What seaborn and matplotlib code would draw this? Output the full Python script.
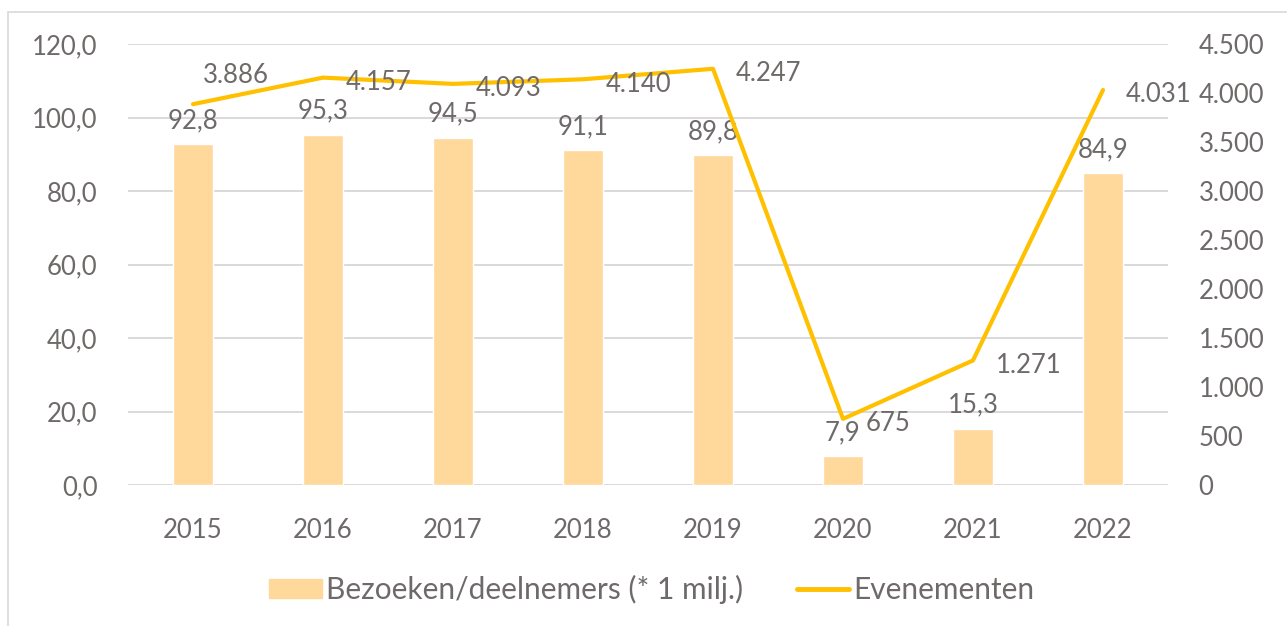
import matplotlib
matplotlib.use("Agg")
import matplotlib.pyplot as plt
from matplotlib.ticker import FuncFormatter, MultipleLocator
from matplotlib.patches import Rectangle
import pandas as pd
import seaborn as sns

# Data
jaren = ['2015', '2016', '2017', '2018', '2019', '2020', '2021', '2022']
bezoeken = [92.8, 95.3, 94.5, 91.1, 89.8, 7.9, 15.3, 84.9]
evenementen = [3886, 4157, 4093, 4140, 4247, 675, 1271, 4031]

BAR_KLEUR = '#FFD89B'
LIJN_KLEUR = '#FFC000'
TEKST_KLEUR = '#6f6a6a'
GRID_KLEUR = '#d9d9d9'

sns.set_style('white')
plt.rcParams['font.family'] = ['Lato', 'DejaVu Sans']
plt.rcParams['text.color'] = TEKST_KLEUR
FS = 18.5      # getallen
FS_LEG = 21.5  # legenda

df = pd.DataFrame({'jaar': jaren, 'bezoeken': bezoeken, 'evenementen': evenementen})

fig = plt.figure(figsize=(12.87, 6.26), dpi=100)
ax = fig.add_axes([128 / 1287, 141 / 626, 1040 / 1287, 441 / 626])

sns.barplot(data=df, x='jaar', y='bezoeken', color=BAR_KLEUR, width=0.31,
            saturation=1, ax=ax, zorder=2)
ax.set_ylim(0, 120)
ax.set_xlim(-0.5, len(jaren) - 0.5)
ax.yaxis.set_major_locator(MultipleLocator(20))
ax.yaxis.set_major_formatter(FuncFormatter(lambda v, p: f"{v:.1f}".replace('.', ',')))
ax.grid(axis='y', color=GRID_KLEUR, linewidth=1.4)
ax.set_axisbelow(True)
ax.set_xlabel('')
ax.set_ylabel('')
ax.tick_params(axis='both', length=0, colors=TEKST_KLEUR, labelsize=FS)
ax.tick_params(axis='y', pad=22)
ax.tick_params(axis='x', pad=24)
for s in ax.spines.values():
    s.set_visible(False)

ax.bar_label(ax.containers[0], labels=[f"{v:.1f}".replace('.', ',') for v in bezoeken],
             padding=8, fontsize=FS, color=TEKST_KLEUR)

ax2 = ax.twinx()
sns.lineplot(data=df, x='jaar', y='evenementen', color=LIJN_KLEUR, linewidth=3,
             ax=ax2, sort=False)
ax2.set_ylim(0, 4500)
ax2.yaxis.set_major_locator(MultipleLocator(500))
ax2.yaxis.set_major_formatter(FuncFormatter(lambda v, p: f"{int(v):,}".replace(',', '.')))
ax2.tick_params(axis='y', length=0, colors=TEKST_KLEUR, labelsize=FS, pad=22)
ax2.set_ylabel('')
ax2.grid(False)
for s in ax2.spines.values():
    s.set_visible(False)

# labels naast de lijnpunten (pixel-offsets -> points)
afwijkend = {0: (10, 29)}
for i, v in enumerate(evenementen):
    dx, dy = afwijkend.get(i, (23, -5))
    ax2.annotate(f"{v:,}".replace(',', '.'), xy=(i, v), xytext=(dx * 0.72, dy * 0.72),
                 textcoords='offset points', ha='left', va='center',
                 fontsize=FS, color=TEKST_KLEUR)

# legenda
handles = [Rectangle((0, 0), 1, 1, color=BAR_KLEUR),
           plt.Line2D([0], [0], color=LIJN_KLEUR, linewidth=3.5, solid_capstyle='round')]
fig.legend(handles, ['Bezoeken/deelnemers (* 1 milj.)', 'Evenementen'],
           loc='center', bbox_to_anchor=(652 / 1287, 1 - 589 / 626), ncol=2,
           frameon=False, fontsize=FS_LEG, handlelength=1.75, handleheight=0.6,
           handletextpad=0.15, columnspacing=1.8, labelcolor=TEKST_KLEUR)

# rand rond de grafiek
fig.patches.append(Rectangle((8 / 1287, -0.01), 1.01, 1 - 12 / 626 + 0.01,
                             transform=fig.transFigure, fill=False,
                             edgecolor=GRID_KLEUR, linewidth=1.2))

fig.savefig('out.png', dpi=100)
